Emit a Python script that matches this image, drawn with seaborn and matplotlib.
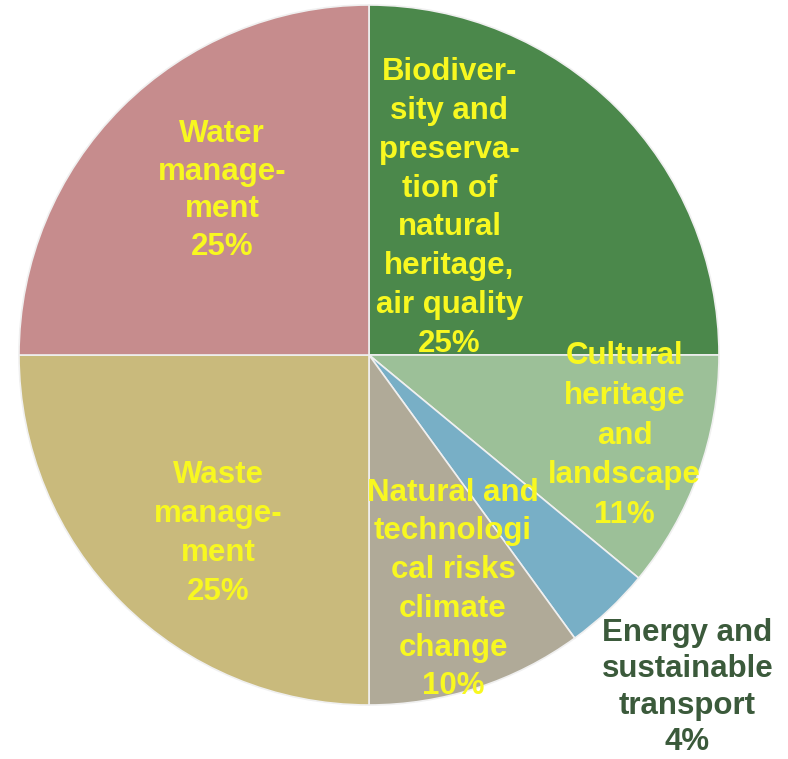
import matplotlib
matplotlib.use("Agg")
import matplotlib.pyplot as plt
import seaborn as sns

categories = [
    "Biodiver-\nsity and\npreserva-\ntion of\nnatural\nheritage,\nair quality",
    "Cultural\nheritage\nand\nlandscape",
    "Energy and\nsustainable\ntransport",
    "Natural and\ntechnologi\ncal risks\nclimate\nchange",
    "Waste\nmanage-\nment",
    "Water\nmanage-\nment",
]
shares = [25, 11, 4, 10, 25, 25]
colors = ["#4b884b", "#9cc098", "#78afc6", "#b0aa98", "#c9ba7c", "#c68c8d"]
label_colors = ["#f8f820", "#f8f820", "#3b5a3b", "#f8f820", "#f8f820", "#f8f820"]
label_pos = [(0.23, 0.42), (0.73, -0.23), (0.91, -0.95), (0.24, -0.67), (-0.43, -0.51), (-0.42, 0.47)]
label_spacing = [1.38, 1.42, 1.28, 1.38, 1.38, 1.32]

sns.set_theme(style="white")
plt.rcParams['font.family'] = ['Liberation Sans', 'DejaVu Sans']

fig = plt.figure(figsize=(7.88, 7.59), dpi=100)
ax = fig.add_axes([19/788, 54/759, 700/788, 700/759])
wedges, _ = ax.pie(shares, colors=colors, startangle=90, counterclock=False,
                   radius=1.0, wedgeprops=dict(edgecolor="#f0f0f0", linewidth=1.2))
ax.set_xlim(-1, 1)
ax.set_ylim(-1, 1)
ax.set_aspect("equal")
ax.axis("off")

for cat, val, col, (x, y), ls in zip(categories, shares, label_colors, label_pos, label_spacing):
    ax.text(x, y, f"{cat}\n{val}%", ha="center", va="center", color=col,
            fontsize=22.5, fontweight="bold", linespacing=ls, clip_on=False)

fig.savefig("out.png", dpi=100)
